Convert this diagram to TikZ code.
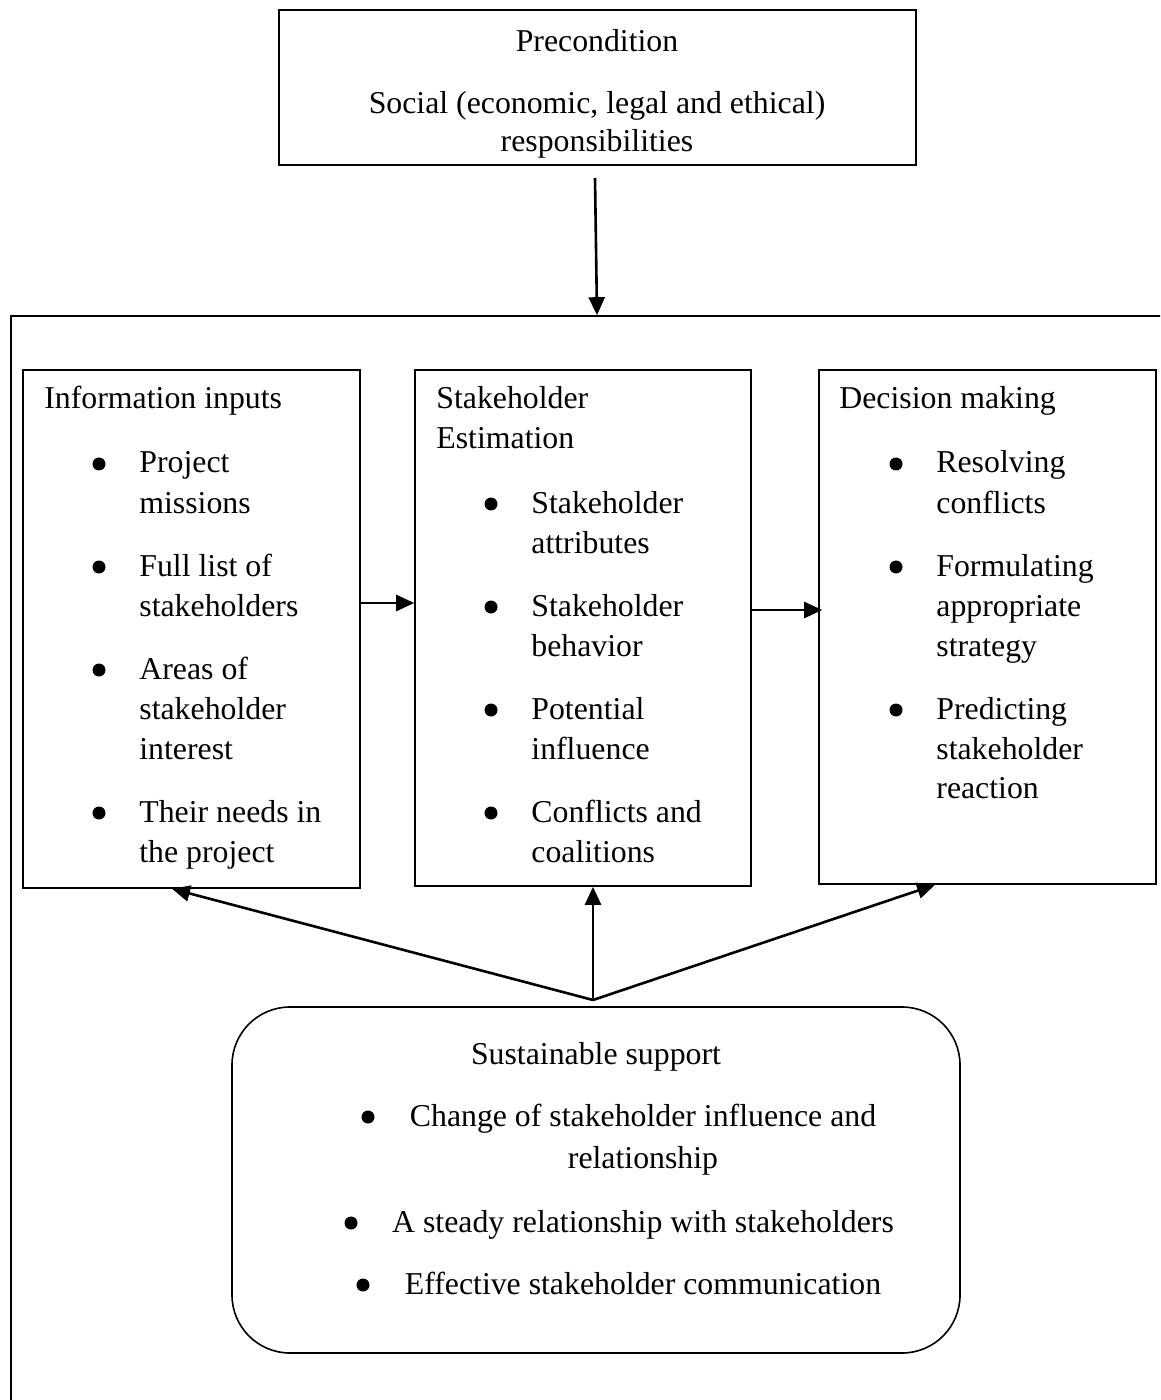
\documentclass[tikz,border=0pt]{standalone}
\usepackage{fontspec}
\setmainfont{Liberation Serif}
\usetikzlibrary{arrows.meta}
\begin{document}
\begin{tikzpicture}[x=0.5pt,y=-0.5pt,
  font=\fontsize{15.9pt}{20pt}\selectfont,
  frame/.style={draw, line width=0.8pt, inner sep=0pt},
  arr/.style={-{Triangle[length=9pt,width=8pt]}, line width=1.3pt},
  tl/.style={anchor=base west, inner sep=0pt},
  tc/.style={anchor=base, inner sep=0pt},
  bul/.style={circle, fill=black, inner sep=0pt, minimum size=6.5pt}]
\clip (0,0) rectangle (1160,1400);
\fill[white] (0,0) rectangle (1160,1400);
% boxes
\node[frame, minimum width=318.5pt, minimum height=77.5pt] (top) at (597.5,87.5) {};
\node[frame, minimum width=586pt, minimum height=552pt] (outer) at (597,868) {};
\node[frame, minimum width=168.5pt, minimum height=259pt] (b1) at (191.5,629) {};
\node[frame, minimum width=168pt, minimum height=258pt] (b2) at (583,628) {};
\node[frame, minimum width=168.5pt, minimum height=257pt] (b3) at (987.5,627) {};
\node[frame, rounded corners=29pt, minimum width=364pt, minimum height=173pt] (sup) at (596,1180) {};
% top text
\node[tc] (t1) at (597,52) {Precondition};
\node[tc] (t2) at (597,114) {Social (economic, legal and ethical)};
\node[tc] (t3) at (597,152) {responsibilities};
% box 1
\node[tl] (a0) at (44,409) {Information inputs};
\node[bul] (ab1) at (99,464) {};
\node[tl] (a1) at (139,473) {Project};
\node[tl] (a2) at (139,513) {missions};
\node[bul] (ab2) at (99,567) {};
\node[tl] (a3) at (139,576) {Full list of};
\node[tl] (a4) at (139,616) {stakeholders};
\node[bul] (ab3) at (99,670) {};
\node[tl] (a5) at (139,679) {Areas of};
\node[tl] (a6) at (139,719) {stakeholder};
\node[tl] (a7) at (139,759) {interest};
\node[bul] (ab4) at (99,813) {};
\node[tl] (a8) at (139,822) {Their needs in};
\node[tl] (a9) at (139,862) {the project};
% box 2
\node[tl] (s0) at (436,409) {Stakeholder};
\node[tl] (s0b) at (436,449) {Estimation};
\node[bul] (sb1) at (491,504) {};
\node[tl] (s1) at (531,513) {Stakeholder};
\node[tl] (s2) at (531,553) {attributes};
\node[bul] (sb2) at (491,607) {};
\node[tl] (s3) at (531,616) {Stakeholder};
\node[tl] (s4) at (531,656) {behavior};
\node[bul] (sb3) at (491,710) {};
\node[tl] (s5) at (531,719) {Potential};
\node[tl] (s6) at (531,759) {influence};
\node[bul] (sb4) at (491,813) {};
\node[tl] (s7) at (531,822) {Conflicts and};
\node[tl] (s8) at (531,862) {coalitions};
% box 3
\node[tl] (d0) at (839,409) {Decision making};
\node[bul] (db1) at (896,464) {};
\node[tl] (d1) at (936,473) {Resolving};
\node[tl] (d2) at (936,513) {conflicts};
\node[bul] (db2) at (896,567) {};
\node[tl] (d3) at (936,576) {Formulating};
\node[tl] (d4) at (936,616) {appropriate};
\node[tl] (d5) at (936,656) {strategy};
\node[bul] (db3) at (896,710) {};
\node[tl] (d6) at (936,719) {Predicting};
\node[tl] (d7) at (936,759) {stakeholder};
\node[tl] (d8) at (936,798) {reaction};
% support box
\node[tc] (u0) at (596,1064) {Sustainable support};
\node[bul] (ub1) at (368,1117) {};
\node[tc] (u1) at (643,1126) {Change of stakeholder influence and};
\node[tc] (u2) at (643,1168) {relationship};
\node[bul] (ub2) at (351,1223) {};
\node[tc] (u3) at (643,1232) {A steady relationship with stakeholders};
\node[bul] (ub3) at (363,1285) {};
\node[tc] (u4) at (643,1294) {Effective stakeholder communication};
% connectors
\coordinate (hub) at (593,1000);
\draw[arr] (595,178) -- (outer.north);
\draw[arr] (b1.east |- 0,603) -- (b2.west |- 0,603);
\draw[arr, shorten >=-2pt] (b2.east |- 0,610) -- (b3.west |- 0,610);
\draw[arr] (hub) -- (b1.south -| 172,0);
\draw[arr] (hub) -- (b2.south -| 593,0);
\draw[arr] (hub) -- (b3.south -| 935,0);
\end{tikzpicture}
\end{document}
